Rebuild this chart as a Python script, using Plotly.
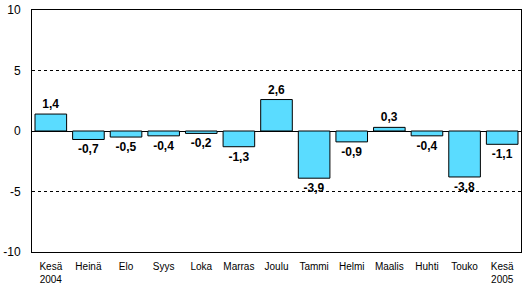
import plotly.graph_objects as go

categories = ["Kesä<br>2004", "Heinä", "Elo", "Syys", "Loka", "Marras", "Joulu",
              "Tammi", "Helmi", "Maalis", "Huhti", "Touko", "Kesä<br>2005"]
values = [1.4, -0.7, -0.5, -0.4, -0.2, -1.3, 2.6, -3.9, -0.9, 0.3, -0.4, -3.8, -1.1]
labels = [f"{v:.1f}".replace(".", ",") for v in values]
y_ticks = [-10, -5, 0, 5, 10]

fig = go.Figure(go.Bar(
    x=categories, y=values, text=labels, textposition="outside",
    textfont=dict(family="Liberation Sans, Arial", size=12, color="black", weight="bold"),
    marker=dict(color="#5ADCFF", line=dict(color="black", width=1)),
    cliponaxis=False,
))

fig.update_layout(
    width=525, height=284,
    margin=dict(l=32, r=4, t=10, b=32, autoexpand=False),
    plot_bgcolor="white", paper_bgcolor="white",
    bargap=0.16, showlegend=False,
    font=dict(family="Liberation Sans, Arial", color="black"),
)
fig.update_xaxes(
    showline=True, linecolor="black", linewidth=1, mirror=True, automargin=False,
    tickfont=dict(size=10), ticks="", showgrid=False, ticklabelstandoff=5,
)
fig.update_yaxes(
    range=[-10, 10], tickvals=y_ticks, ticktext=[str(t) for t in y_ticks],
    showline=True, linecolor="black", linewidth=1, mirror=True, automargin=False,
    showgrid=True, gridcolor="black", griddash="3px,3px", gridwidth=1,
    zeroline=True, zerolinecolor="black", zerolinewidth=1,
    tickfont=dict(size=12), ticks="", ticklabelstandoff=8,
)

fig.write_html("out.html")
